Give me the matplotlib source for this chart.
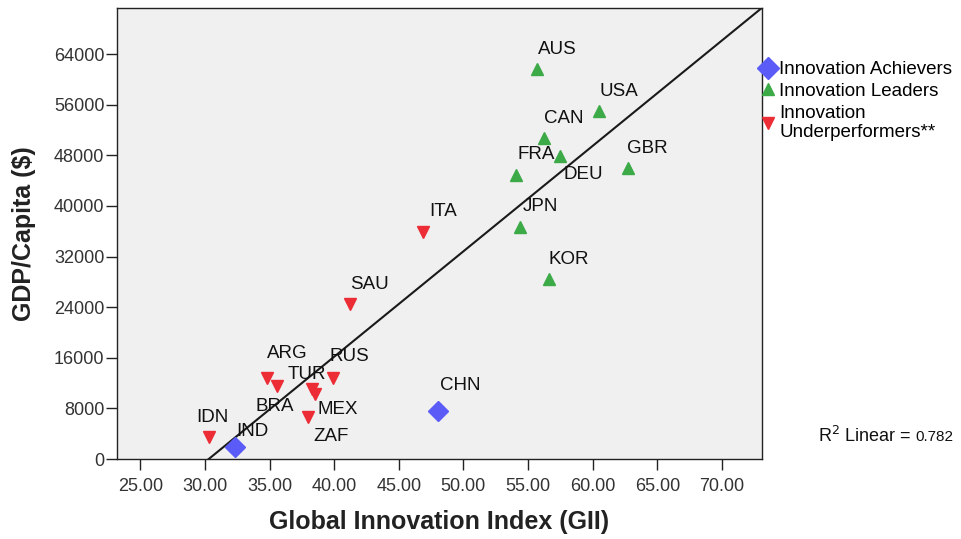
import matplotlib
matplotlib.use('Agg')
import matplotlib.pyplot as plt
import numpy as np

plt.rcParams['font.family'] = ['Liberation Sans', 'DejaVu Sans']

# country data: GII score, GDP per capita
achievers = ['IND', 'CHN']
achievers_gii = [32.3, 48.0]
achievers_gdp = [1900, 7600]

leaders = ['AUS', 'USA', 'CAN', 'DEU', 'FRA', 'GBR', 'JPN', 'KOR']
leaders_gii = [55.7, 60.5, 56.2, 57.5, 54.1, 62.7, 54.4, 56.6]
leaders_gdp = [61600, 55000, 50700, 47900, 44900, 46000, 36700, 28400]

under = ['ITA', 'SAU', 'ARG', 'BRA', 'TUR', 'MEX', 'RUS', 'ZAF', 'IDN']
under_gii = [46.9, 41.2, 34.8, 35.6, 38.3, 38.5, 39.9, 38.0, 30.3]
under_gdp = [35900, 24500, 12800, 11500, 11060, 10270, 12800, 6640, 3500]

r2_text = '0.782'
x_ticks = [25, 30, 35, 40, 45, 50, 55, 60, 65, 70]
y_ticks = [0, 8000, 16000, 24000, 32000, 40000, 48000, 56000, 64000]

# label offsets in pixels (default is up-right)
label_offset = {'DEU': (23, -18), 'BRA': (-3, -20), 'MEX': (23, -15),
                'ZAF': (23, -20), 'TUR': (-5, 15), 'IDN': (4, 19),
                'IND': (18, 15), 'ARG': (20, 25), 'RUS': (17, 22),
                'CHN': (23, 25)}

blue = '#5b5bf7'
green = '#3daa48'
red = '#ec2d35'

fig = plt.figure(figsize=(9.61, 5.39), dpi=100)
ax = fig.add_axes([117/961, 80/539, 645/961, 451/539])
ax.set_facecolor('#f0f0f0')

ax.plot(achievers_gii, achievers_gdp, 'D', color=blue, ms=10, mec=blue,
        label='Innovation Achievers', zorder=3)
ax.plot(leaders_gii, leaders_gdp, '^', color=green, ms=8, mec=green,
        label='Innovation Leaders', zorder=3)
ax.plot(under_gii, under_gdp, 'v', color=red, ms=8, mec=red,
        label='Innovation\nUnderperformers**', zorder=3)

# linear fit over all countries
all_x = np.array(achievers_gii + leaders_gii + under_gii)
all_y = np.array(achievers_gdp + leaders_gdp + under_gdp)
slope, intercept = np.polyfit(all_x, all_y, 1)
xs = np.array([23.2, 73.1])
ax.plot(xs, slope * xs + intercept, color='#1a1a1a', lw=1.5, zorder=2)

for names, gx, gy in [(achievers, achievers_gii, achievers_gdp),
                      (leaders, leaders_gii, leaders_gdp),
                      (under, under_gii, under_gdp)]:
    for n, x, y in zip(names, gx, gy):
        dx, dy = label_offset.get(n, (20, 20))
        ax.annotate(n, (x, y), xytext=(dx, dy), textcoords='offset pixels',
                    ha='center', va='center', fontsize=13.5, color='#111111',
                    zorder=4)

ax.set_xlim(23.2, 73.1)
ax.set_ylim(0, 71300)
ax.set_xticks(x_ticks)
ax.set_xticklabels(['%.2f' % t for t in x_ticks])
ax.set_yticks(y_ticks)
ax.set_yticklabels([str(t) for t in y_ticks])
ax.tick_params(direction='out', length=8, width=1, labelsize=13,
               labelcolor='#333333', color='#222222')
ax.tick_params(axis='y', pad=1)
ax.tick_params(axis='x', pad=6)
for s in ax.spines.values():
    s.set_color('#222222')
    s.set_linewidth(1)

ax.set_xlabel('Global Innovation Index (GII)', fontsize=18, fontweight='bold',
              color='#222222')
ax.set_ylabel('GDP/Capita ($)', fontsize=18, fontweight='bold',
              color='#222222')
ax.xaxis.set_label_coords(0.5, -0.113)
ax.yaxis.set_label_coords(-0.126, 0.5)

ax.legend(loc='upper left', bbox_to_anchor=(0.986, 0.899), frameon=False,
          fontsize=13.5, handlelength=0.8, handletextpad=0.2,
          borderaxespad=0, labelspacing=0.25, markerscale=1.1)

fig.text(818/961, 1 - 436/539, 'R$^2$ Linear =', fontsize=13, va='center',
         color='#111111')
fig.text(915/961, 1 - 437/539, r2_text, fontsize=11, va='center',
         color='#111111')

fig.savefig('out.png', dpi=100)
